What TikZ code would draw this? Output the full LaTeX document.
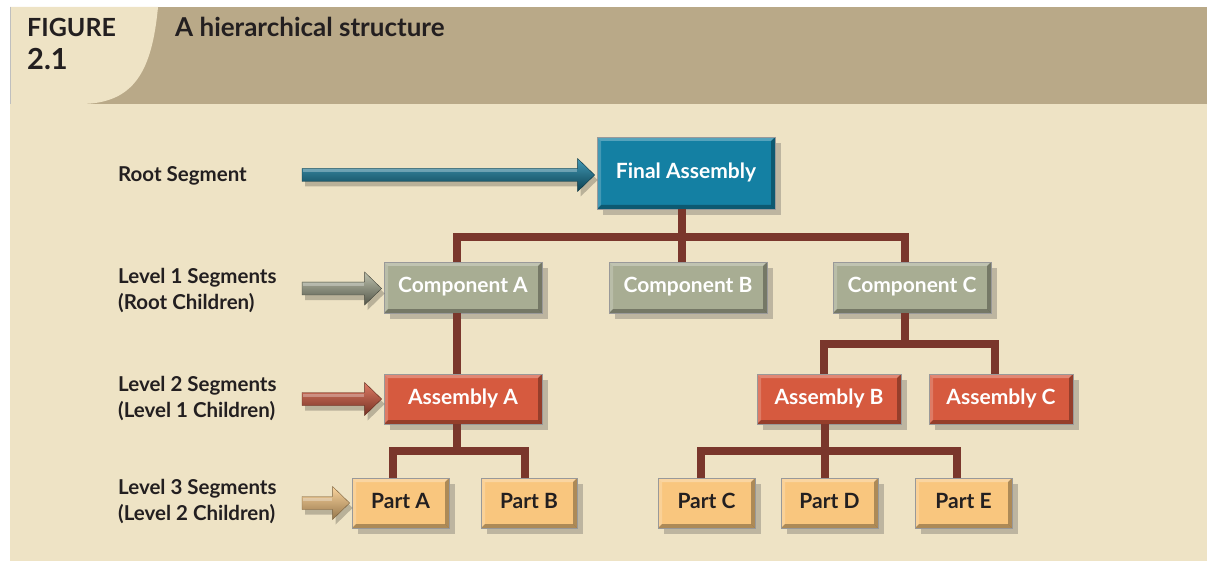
\documentclass[tikz,border=0pt]{standalone}
\usepackage{fontspec}
\setmainfont{Lato}
\usetikzlibrary{calc,shadows}
\definecolor{bgc}{HTML}{EEE3C5}
\definecolor{hdr}{HTML}{B9A988}
\definecolor{inkc}{HTML}{231F20}
\definecolor{blueC}{HTML}{1480A3}
\definecolor{greenC}{HTML}{A8AD93}
\definecolor{redC}{HTML}{D65A3F}
\definecolor{orangeC}{HTML}{F9C67E}
\definecolor{brownC}{HTML}{7A372C}
\newcommand\segarrow[5]{%
  \fill[black,opacity=0.22] let \p1=(#1), \p2=(#2) in
    (\x1+3pt,\y2+6.5pt-5pt) -- (\x2-17pt+3pt,\y2+6.5pt-5pt) -- (\x2-17pt+3pt,\y2+16.5pt-5pt) -- (\x2+3pt,\y2-5pt)
    -- (\x2-17pt+3pt,\y2-16.5pt-5pt) -- (\x2-17pt+3pt,\y2-6.5pt-5pt) -- (\x1+3pt,\y2-6.5pt-5pt) -- cycle;
  \shade[top color=#3, middle color=#4, bottom color=#5, draw=#5!80!black, line width=0.4pt] let \p1=(#1), \p2=(#2) in
    (\x1,\y2+6.5pt) -- (\x2-17pt,\y2+6.5pt) -- (\x2-17pt,\y2+16.5pt) -- (\x2,\y2)
    -- (\x2-17pt,\y2-16.5pt) -- (\x2-17pt,\y2-6.5pt) -- (\x1,\y2-6.5pt) -- cycle;
  \fill[white,opacity=0.3] let \p1=(#1), \p2=(#2) in
    (\x1+1pt,\y2+5.5pt) -- (\x2-18pt,\y2+5.5pt) -- (\x2-18pt,\y2+2.5pt) -- (\x1+1pt,\y2+2.5pt) -- cycle;
}
\begin{document}
\begin{tikzpicture}[x=1pt,y=-1pt,
  box/.style={draw=black!40, line width=0.8pt, inner sep=0pt, minimum height=50pt,
    text height=15pt, text depth=4.5pt,
    font=\fontsize{21}{24}\selectfont\bfseries,
    drop shadow={shadow xshift=6pt, shadow yshift=-6pt, opacity=0.3, fill=black!70},
    path picture={
      \fill[white,opacity=0.28] (path picture bounding box.north west) -- (path picture bounding box.north east)
        -- ([xshift=-4pt,yshift=-4pt]path picture bounding box.north east) -- ([xshift=4pt,yshift=-4pt]path picture bounding box.north west) -- cycle;
      \fill[white,opacity=0.2] (path picture bounding box.north west) -- (path picture bounding box.south west)
        -- ([xshift=4pt,yshift=4pt]path picture bounding box.south west) -- ([xshift=4pt,yshift=-4pt]path picture bounding box.north west) -- cycle;
      \fill[black,opacity=0.3] (path picture bounding box.south west) -- (path picture bounding box.south east)
        -- ([xshift=-4pt,yshift=4pt]path picture bounding box.south east) -- ([xshift=4pt,yshift=4pt]path picture bounding box.south west) -- cycle;
      \fill[black,opacity=0.3] (path picture bounding box.south east) -- (path picture bounding box.north east)
        -- ([xshift=-4pt,yshift=-4pt]path picture bounding box.north east) -- ([xshift=-4pt,yshift=4pt]path picture bounding box.south east) -- cycle;
    }},
  rootbox/.style={box, fill=blueC, text=white},
  lvlone/.style={box, fill=greenC, text=white},
  lvltwo/.style={box, fill=redC, text=white},
  lvlthree/.style={box, fill=orangeC, text=inkc},
  conn/.style={draw=brownC, line width=7.5pt, line join=miter, line cap=butt},
  seglabel/.style={anchor=west, align=left, inner sep=0pt, text=inkc,
    font=\fontsize{20.5}{26}\selectfont\bfseries},
  hfont/.style={inner sep=0pt, text=inkc, font=\fontsize{26}{28}\selectfont\bfseries}
]
\useasboundingbox (0,0) rectangle (1207,561);
% background and header
\fill[bgc] (10,7) rectangle (1207,561);
\fill[hdr] (10,7) rectangle (1207,104);
\fill[bgc] (10,7) -- (158,7) .. controls (152,70) and (135,104) .. (80,104) -- (10,104) -- cycle;
\draw[black!25, line width=0.8pt] (10.4,7) -- (10.4,104);
\node[hfont, anchor=base west, font=\fontsize{25}{28}\selectfont\bfseries] (figlbl) at (27,37) {FIGURE};
\node[hfont, anchor=base west, font=\fontsize{29}{30}\selectfont\bfseries] (fignum) at (27,70) {2.1};
\node[hfont, anchor=base west] (title) at (175,37) {A hierarchical structure};

% boxes
\node[rootbox, minimum width=178pt, minimum height=72pt] (fa) at (686,173) {Final Assembly};
\node[lvlone, minimum width=158pt, minimum height=51pt] (ca) at (463,287.5) {Component A};
\node[lvlone, minimum width=158pt, minimum height=51pt] (cb) at (688,287.5) {Component B};
\node[lvlone, minimum width=158pt, minimum height=51pt] (cc) at (912,287.5) {Component C};
\node[lvltwo, minimum width=158pt] (aa) at (463,399) {Assembly A};
\node[lvltwo, minimum width=144pt] (ab) at (829,399) {Assembly B};
\node[lvltwo, minimum width=144pt] (ac) at (1001,399) {Assembly C};
\node[lvlthree, minimum width=97pt] (pa) at (400.5,503) {Part A};
\node[lvlthree, minimum width=96pt] (pb) at (529,503) {Part B};
\node[lvlthree, minimum width=97pt] (pc) at (706.5,503) {Part C};
\node[lvlthree, minimum width=97pt] (pd) at (829.5,503) {Part D};
\node[lvlthree, minimum width=97pt] (pe) at (963.5,503) {Part E};

% labels
\node[seglabel] (lr) at (118,176) {Root Segment};
\node[seglabel] (l1) at (118,291) {Level 1 Segments\\(Root Children)};
\node[seglabel] (l2) at (118,399) {Level 2 Segments\\(Level 1 Children)};
\node[seglabel] (l3) at (118,502) {Level 3 Segments\\(Level 2 Children)};

% connector anchor points
\coordinate (faS) at ([xshift=-4pt]fa.south);
\coordinate (caN) at ([xshift=-6pt]ca.north);
\coordinate (cbN) at ([xshift=-6pt]cb.north);
\coordinate (ccN) at ([xshift=-7pt]cc.north);
\coordinate (caS) at ([xshift=-6pt]ca.south);
\coordinate (aaN) at ([xshift=-6pt]aa.north);
\coordinate (ccS) at ([xshift=-7pt]cc.south);
\coordinate (abN) at ([xshift=-5pt]ab.north);
\coordinate (acN) at ([xshift=-6pt]ac.north);
\coordinate (aaS) at ([xshift=-6pt]aa.south);
\coordinate (paN) at ([xshift=-7.5pt]pa.north);
\coordinate (pbN) at ([xshift=-4pt]pb.north);
\coordinate (abS) at ([xshift=-4pt]ab.south);
\coordinate (pcN) at ([xshift=-5.5pt]pc.north);
\coordinate (pdN) at ([xshift=-4.5pt]pd.north);
\coordinate (peN) at ([xshift=-6.5pt]pe.north);
\coordinate (bar1) at (682,237);
\coordinate (bar2) at (905,344);
\coordinate (bar3) at (457,451);
\coordinate (bar4) at (825,451);

% tree connectors
\draw[conn] (faS) -- (cbN);
\draw[conn] (caN) -- (caN |- bar1) -- (ccN |- bar1) -- (ccN);
\draw[conn] (caS) -- (aaN);
\draw[conn] (ccS) -- (ccS |- bar2);
\draw[conn] (abN) -- (abN |- bar2) -- (acN |- bar2) -- (acN);
\draw[conn] (aaS) -- (aaS |- bar3);
\draw[conn] (paN) -- (paN |- bar3) -- (pbN |- bar3) -- (pbN);
\draw[conn] (abS) -- (pdN);
\draw[conn] (pcN) -- (pcN |- bar4) -- (peN |- bar4) -- (peN);

% segment arrows
\coordinate (r0) at (302,175);
\coordinate (r1) at (302,288);
\coordinate (r2) at (302,398);
\coordinate (r3) at (302,502);
\coordinate (faW) at ([xshift=-2pt,yshift=-2pt]fa.west);
\coordinate (caW) at ([xshift=-2pt,yshift=-1pt]ca.west);
\coordinate (aaW) at ([xshift=-2pt]aa.west);
\coordinate (paW) at ([xshift=-2pt]pa.west);
\segarrow{r0}{faW}{blueC!80!white}{blueC}{blueC!50!black}
\segarrow{r1}{caW}{greenC!75!white}{greenC}{greenC!50!black}
\segarrow{r2}{aaW}{redC!80!white}{redC}{redC!55!black}
\segarrow{r3}{paW}{orangeC!75!white}{orangeC}{orangeC!60!black}
\end{tikzpicture}
\end{document}
